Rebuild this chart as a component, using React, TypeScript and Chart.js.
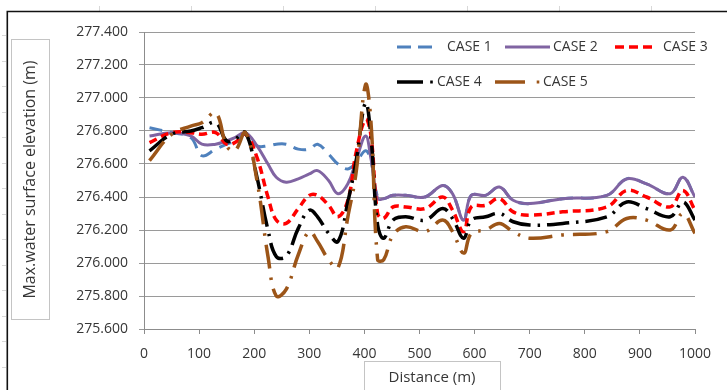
import React, { useEffect, useRef } from "react";
import { Chart, registerables } from "chart.js";

Chart.register(...registerables);

// ---- data ----
const DISTANCE = [10, 50, 85, 105, 130, 150, 165, 184, 205, 225, 240, 258, 280, 300, 315, 335, 352, 370, 385, 402, 412, 424, 435, 452, 475, 510, 542, 560, 580, 594, 620, 645, 670, 700, 760, 840, 876, 912, 955, 978, 1000];

const CASE_1 = [276.82, 276.79, 276.76, 276.65, 276.69, 276.72, 276.74, 276.78, 276.71, 276.71, 276.72, 276.72, 276.69, 276.69, 276.72, 276.66, 276.60, 276.57, 276.61, 276.68, 276.62, 276.40, 276.39, 276.41, 276.41, 276.40, 276.47, 276.42, 276.26, 276.41, 276.41, 276.46, 276.38, 276.36, 276.39, 276.41, 276.51, 276.48, 276.42, 276.52, 276.40];
const CASE_2 = [276.77, 276.79, 276.77, 276.72, 276.72, 276.74, 276.76, 276.79, 276.71, 276.60, 276.52, 276.49, 276.51, 276.54, 276.56, 276.50, 276.42, 276.48, 276.62, 276.77, 276.63, 276.39, 276.39, 276.41, 276.41, 276.40, 276.47, 276.42, 276.26, 276.41, 276.41, 276.46, 276.38, 276.36, 276.39, 276.41, 276.51, 276.48, 276.42, 276.52, 276.40];
const CASE_3 = [276.73, 276.79, 276.79, 276.78, 276.79, 276.72, 276.73, 276.78, 276.64, 276.40, 276.26, 276.24, 276.33, 276.41, 276.41, 276.35, 276.28, 276.38, 276.67, 276.87, 276.77, 276.30, 276.27, 276.34, 276.34, 276.33, 276.40, 276.32, 276.19, 276.34, 276.35, 276.39, 276.31, 276.29, 276.31, 276.34, 276.44, 276.40, 276.34, 276.44, 276.32];
const CASE_4 = [276.68, 276.78, 276.80, 276.82, 276.85, 276.74, 276.75, 276.79, 276.52, 276.20, 276.04, 276.04, 276.21, 276.32, 276.28, 276.18, 276.13, 276.37, 276.62, 276.97, 276.76, 276.23, 276.15, 276.26, 276.28, 276.26, 276.33, 276.27, 276.15, 276.26, 276.28, 276.30, 276.25, 276.23, 276.24, 276.28, 276.37, 276.33, 276.28, 276.37, 276.26];
const CASE_5 = [276.62, 276.78, 276.83, 276.85, 276.91, 276.71, 276.68, 276.79, 276.50, 276.04, 275.80, 275.84, 276.05, 276.19, 276.13, 276.02, 275.97, 276.28, 276.55, 277.08, 276.85, 276.02, 276.02, 276.17, 276.22, 276.19, 276.26, 276.19, 276.06, 276.18, 276.20, 276.24, 276.19, 276.15, 276.17, 276.19, 276.27, 276.26, 276.20, 276.30, 276.18];

const SERIES_NAMES = ["CASE 1", "CASE 2", "CASE 3", "CASE 4", "CASE 5"];
const X_TICKS = [0, 100, 200, 300, 400, 500, 600, 700, 800, 900, 1000];
const Y_MIN = 275.6;
const Y_MAX = 277.4;
const Y_STEP = 0.2;
const X_TITLE = "Distance (m)";
const Y_TITLE = "Max.water surface elevation (m)";

// ---- styles ----
const FONT = "'Open Sans', 'Liberation Sans', sans-serif";
const TEXT = "#363636";
const STYLES = [
  { color: "#4f81bd", width: 3, dash: [13, 8] },
  { color: "#8064a2", width: 3, dash: [] as number[] },
  { color: "#ff0000", width: 3.5, dash: [8, 5] },
  { color: "#000000", width: 3.5, dash: [22, 7, 2.5, 7] },
  { color: "#9c5518", width: 3.5, dash: [24, 9, 2.5, 9] },
];

const decoPlugin = {
  id: "deco",
  beforeDraw(chart: any) {
    const ctx = chart.ctx as CanvasRenderingContext2D;
    ctx.save();
    ctx.strokeStyle = "#d8d8d8";
    ctx.lineWidth = 1;
    for (let x = 99; x < 727; x += 92) {
      ctx.beginPath();
      ctx.moveTo(x + 0.5, 6);
      ctx.lineTo(x + 0.5, 11);
      ctx.stroke();
    }
    for (let y = 35; y < 390; y += 25.5) {
      ctx.beginPath();
      ctx.moveTo(2, Math.round(y) + 0.5);
      ctx.lineTo(6, Math.round(y) + 0.5);
      ctx.stroke();
    }
    ctx.strokeStyle = "#111";
    ctx.lineWidth = 1.6;
    ctx.beginPath();
    ctx.moveTo(7.3, 390);
    ctx.lineTo(7.3, 11.5);
    ctx.lineTo(727, 11.5);
    ctx.stroke();
    ctx.restore();
  },
  afterDraw(chart: any) {
    const ctx = chart.ctx as CanvasRenderingContext2D;
    ctx.save();
    ctx.strokeStyle = "#c4c4c4";
    ctx.lineWidth = 1;
    ctx.strokeRect(11.5, 39.5, 38, 280);
    ctx.strokeRect(364.5, 361.5, 136, 40);
    ctx.fillStyle = TEXT;
    ctx.font = `15px ${FONT}`;
    ctx.textAlign = "center";
    ctx.textBaseline = "middle";
    ctx.fillText(X_TITLE, 432, 378);
    ctx.save();
    ctx.translate(30, 179.5);
    ctx.rotate(-Math.PI / 2);
    ctx.font = `16px ${FONT}`;
    ctx.fillText(Y_TITLE, 0, 0);
    ctx.restore();

    const items = [
      { i: 0, x0: 397, x1: 438, tx: 447, y: 47, dash: [14, 7], dot: 0 },
      { i: 1, x0: 505, x1: 550, tx: 553, y: 47, dash: [], dot: 0 },
      { i: 2, x0: 615, x1: 655, tx: 663, y: 47, dash: [9, 5], dot: 0 },
      { i: 3, x0: 397, x1: 423, tx: 437, y: 82, dash: [], dot: 431.5 },
      { i: 4, x0: 495, x1: 525, tx: 543, y: 82, dash: [], dot: 538 },
    ];
    const ds = chart.data.datasets;
    ctx.font = `14px ${FONT}`;
    ctx.textAlign = "left";
    ctx.textBaseline = "middle";
    for (const it of items) {
      const d = ds[it.i];
      ctx.strokeStyle = d.borderColor;
      ctx.lineWidth = d.borderWidth;
      ctx.lineCap = "butt";
      ctx.setLineDash(it.dash);
      ctx.beginPath();
      ctx.moveTo(it.x0, it.y);
      ctx.lineTo(it.x1, it.y);
      ctx.stroke();
      ctx.setLineDash([]);
      if (it.dot) {
        ctx.fillStyle = d.borderColor;
        ctx.fillRect(it.dot - 1.3, it.y - 1.5, 2.6, 3);
      }
      ctx.fillStyle = TEXT;
      ctx.fillText(d.label, it.tx, it.y + 0.5);
    }
    ctx.restore();
  },
};

export default function App() {
  const ref = useRef<HTMLCanvasElement | null>(null);
  useEffect(() => {
    if (!ref.current) return;
    const values = [CASE_1, CASE_2, CASE_3, CASE_4, CASE_5];
    const chart = new Chart(ref.current, {
      type: "line",
      data: {
        datasets: values.map((arr, i) => ({
          label: SERIES_NAMES[i],
          data: arr.map((v, k) => ({ x: DISTANCE[k], y: v })),
          borderColor: STYLES[i].color,
          backgroundColor: STYLES[i].color,
          borderWidth: STYLES[i].width,
          borderDash: STYLES[i].dash,
          borderCapStyle: "butt",
          pointRadius: 0,
          tension: 0.4,
          fill: false,
          order: 4 - i,
        })),
      },
      options: {
        animation: false,
        responsive: true,
        maintainAspectRatio: false,
        devicePixelRatio: 1,
        layout: { padding: { top: 32, right: 32, left: 0, bottom: 0 } },
        plugins: { legend: { display: false }, tooltip: { enabled: false } },
        scales: {
          x: {
            type: "linear",
            min: 0,
            max: 1000,
            afterBuildTicks: (s: any) => {
              s.ticks = X_TICKS.map((v) => ({ value: v }));
            },
            afterFit: (s: any) => {
              s.height = 61;
            },
            ticks: {
              color: TEXT,
              font: { family: FONT, size: 14 },
              padding: 12,
              maxRotation: 0,
              autoSkip: false,
              callback: (v: any) => String(v),
            },
            grid: { drawOnChartArea: false, drawTicks: true, tickLength: 5, color: "#8c8c8c" },
            border: { color: "#8c8c8c", width: 1 },
          },
          y: {
            type: "linear",
            min: Y_MIN,
            max: Y_MAX,
            ticks: {
              stepSize: Y_STEP,
              color: TEXT,
              font: { family: FONT, size: 14 },
              padding: 11,
              callback: (v: any) => Number(v).toFixed(3),
            },
            afterFit: (s: any) => {
              s.width = 144;
            },
            grid: { color: "#9a9a9a", tickLength: 5, drawTicks: true },
            border: { color: "#8c8c8c", width: 1 },
          },
        },
      },
      plugins: [decoPlugin],
    } as any);
    return () => chart.destroy();
  }, []);
  return (
    <div style={{ position: "fixed", left: 0, top: 0, width: 727, height: 390, background: "#fff" }}>
      <canvas ref={ref} />
    </div>
  );
}
